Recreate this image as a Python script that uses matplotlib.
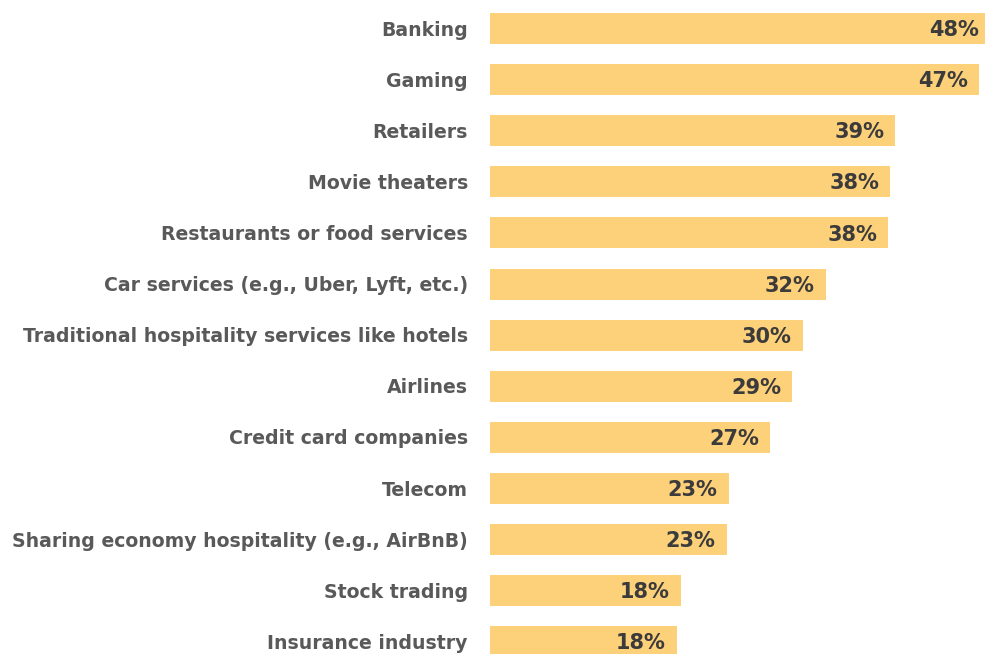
import matplotlib
matplotlib.use("Agg")
import matplotlib.pyplot as plt

categories = [
    "Banking",
    "Gaming",
    "Retailers",
    "Movie theaters",
    "Restaurants or food services",
    "Car services (e.g., Uber, Lyft, etc.)",
    "Traditional hospitality services like hotels",
    "Airlines",
    "Credit card companies",
    "Telecom",
    "Sharing economy hospitality (e.g., AirBnB)",
    "Stock trading",
    "Insurance industry",
]
shares = [48.0, 46.9, 38.9, 38.4, 38.2, 32.2, 30.0, 29.0, 26.9, 22.9, 22.7, 18.3, 17.9]

bar_color = "#FDD07A"
label_color = "#595959"
value_color = "#3b3b3b"

fig = plt.figure(figsize=(9.85, 6.54), dpi=100)
ax = fig.add_axes([490 / 985, 0, 495 / 985, 1])

ypos = list(range(len(categories)))
ax.barh(ypos, shares, height=0.607, color=bar_color, edgecolor="none")

ax.set_xlim(0, 47.5)
ax.set_ylim(12.24, -0.558)

for y, v in zip(ypos, shares):
    ax.annotate(f"{v:.0f}%", xy=(v, y), xytext=(-8, -1.2), textcoords="offset points",
                ha="right", va="center", fontsize=15, fontweight="bold",
                color=value_color, annotation_clip=False)
    ax.annotate(categories[y], xy=(0, y), xytext=(-16, -1.2), textcoords="offset points",
                ha="right", va="center", fontsize=13.6, fontweight="bold",
                color=label_color, annotation_clip=False)

ax.set_xticks([])
ax.set_yticks([])
for s in ax.spines.values():
    s.set_visible(False)

fig.savefig("out.png", dpi=100)
